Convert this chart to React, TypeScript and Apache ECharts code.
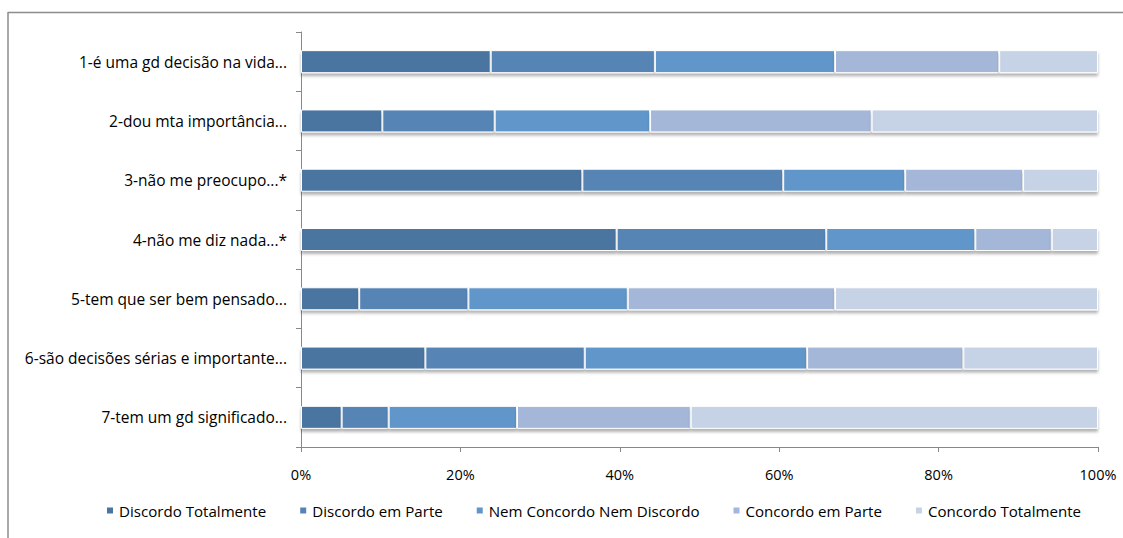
import React, { useEffect, useRef } from "react";
import * as echarts from "echarts";

const categories = [
  "1-é uma gd decisão na vida...",
  "2-dou mta importância...",
  "3-não me preocupo...*",
  "4-não me diz nada...*",
  "5-tem que ser bem pensado...",
  "6-são decisões sérias e importante...",
  "7-tem um gd significado...",
];

const seriesNames = [
  "Discordo Totalmente",
  "Discordo em Parte",
  "Nem Concordo Nem Discordo",
  "Concordo em Parte",
  "Concordo Totalmente",
];

const discordoTotalmente = [23.8, 10.2, 35.3, 39.6, 7.3, 15.6, 5.1];
const discordoEmParte = [20.6, 14.1, 25.2, 26.3, 13.7, 20.0, 5.9];
const nemNem = [22.6, 19.5, 15.3, 18.7, 20.0, 27.9, 16.1];
const concordoEmParte = [20.6, 27.8, 14.8, 9.6, 26.0, 19.6, 21.8];
const concordoTotalmente = [12.4, 28.4, 9.4, 5.8, 33.0, 16.9, 51.1];

const seriesValues = [discordoTotalmente, discordoEmParte, nemNem, concordoEmParte, concordoTotalmente];
const colors = ["#4A75A0", "#5484B5", "#6096C9", "#A4B7D8", "#C6D2E5"];

const FONT = "Open Sans";

export default function App() {
  const ref = useRef<HTMLDivElement>(null);
  useEffect(() => {
    document.body.style.margin = "0";
    document.documentElement.style.overflow = "hidden";
    if (!ref.current) return;
    const chart = echarts.init(ref.current, null, { renderer: "svg" });
    chart.setOption({
      animation: false,
      textStyle: { fontFamily: FONT },
      graphic: [
        {
          type: "line",
          shape: { x1: 8, y1: 12.5, x2: 1123, y2: 12.5 },
          style: { stroke: "#8c8c8c", lineWidth: 1.5 },
          silent: true,
        },
        {
          type: "line",
          shape: { x1: 8, y1: 12, x2: 8, y2: 538 },
          style: { stroke: "#8c8c8c", lineWidth: 1.5 },
          silent: true,
        },
      ],
      grid: { left: 301, right: 25, top: 32, bottom: 91, containLabel: false },
      xAxis: {
        type: "value",
        min: 0,
        max: 100,
        interval: 20,
        axisLine: { show: true, lineStyle: { color: "#888", width: 1 } },
        axisTick: { show: true, length: 5, lineStyle: { color: "#888" } },
        splitLine: { show: false },
        axisLabel: {
          formatter: "{value}%",
          color: "#000",
          fontSize: 14.5,
          fontFamily: FONT,
          margin: 20,
        },
      },
      yAxis: {
        type: "category",
        inverse: true,
        data: categories,
        axisLine: { show: true, lineStyle: { color: "#888", width: 1 } },
        axisTick: { show: true, length: 5, lineStyle: { color: "#888" } },
        axisLabel: { color: "#000", fontSize: 15.5, fontFamily: FONT, margin: 14 },
      },
      legend: {
        left: 100,
        top: 498,
        itemWidth: 8,
        itemHeight: 8,
        itemGap: 32,
        icon: "rect",
        textStyle: { color: "#000", fontSize: 15.1, fontFamily: FONT },
        data: seriesNames,
      },
      series: seriesNames.map((name, i) => ({
        name,
        type: "bar",
        stack: "total",
        barWidth: 23,
        data: seriesValues[i],
        itemStyle: {
          color: colors[i],
          borderColor: "#fff",
          borderWidth: 1,
          shadowColor: "rgba(0,0,0,0.3)",
          shadowBlur: 3,
          shadowOffsetY: 3,
        },
      })),
    });
    return () => chart.dispose();
  }, []);
  return <div ref={ref} style={{ width: 1123, height: 538 }} />;
}
